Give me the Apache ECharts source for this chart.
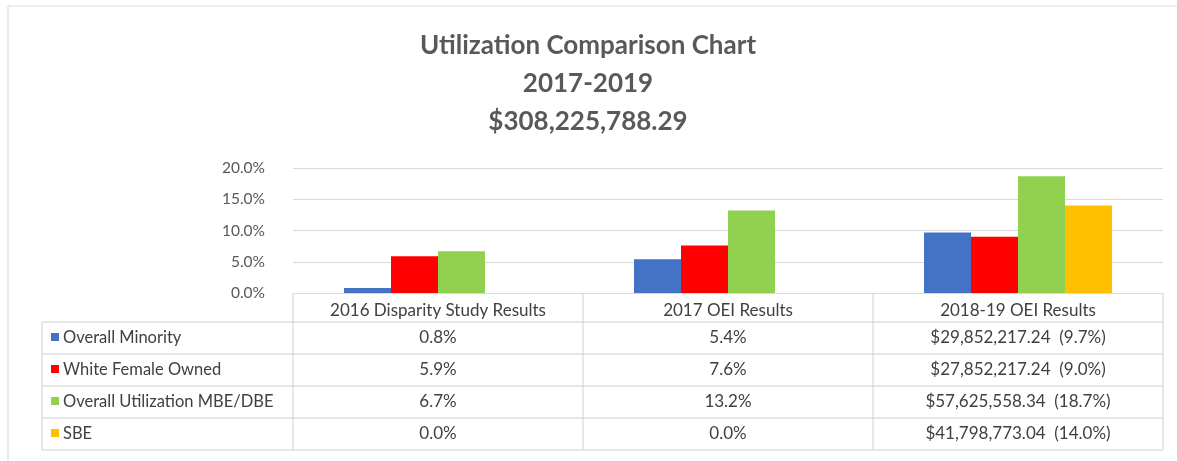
<!DOCTYPE html>
<html>
<head>
<meta charset="utf-8">
<script src="https://cdn.jsdelivr.net/npm/echarts@6/dist/echarts.min.js"></script>
<style>
  html, body { margin: 0; padding: 0; background: #fff; }
  #diagram { width: 1177px; height: 461px; }
</style>
</head>
<body>
<div id="diagram"></div>
<script>
// data
var categories = ["2016 Disparity Study Results", "2017 OEI Results", "2018-19 OEI Results"];
var seriesNames = ["Overall Minority", "White Female Owned", "Overall Utilization MBE/DBE", "SBE"];
var overallMinority = [0.8, 5.4, 9.7];
var whiteFemaleOwned = [5.9, 7.6, 9.0];
var overallUtilization = [6.7, 13.2, 18.7];
var sbe = [0.0, 0.0, 14.0];
var dollars1819 = ["$29,852,217.24", "$27,852,217.24", "$57,625,558.34", "$41,798,773.04"];
var titleLines = ["Utilization Comparison Chart", "2017-2019", "$308,225,788.29"];

var colors = ["#4472C4", "#FF0000", "#92D050", "#FFC000"];
var font = "Lato, 'Open Sans', sans-serif";
var seriesData = [overallMinority, whiteFemaleOwned, overallUtilization, sbe];

var gridLeft = 293, gridRight = 14, gridTop = 168, gridBottom = 168;
var W = 1177, H = 461;

var myChart = echarts.init(document.getElementById("diagram"));
var option = {
  color: colors,
  animation: false,
  textStyle: { fontFamily: font },
  title: {
    text: titleLines.join("\n"),
    left: 588,
    textAlign: "center",
    top: 27,
    padding: 0,
    textStyle: { fontSize: 26, fontWeight: "bold", color: "#595959", lineHeight: 38, fontFamily: font }
  },
  grid: { left: gridLeft, right: gridRight, top: gridTop, bottom: gridBottom },
  xAxis: {
    type: "category",
    data: categories,
    axisLine: { lineStyle: { color: "#d9d9d9" } },
    axisTick: { show: false },
    axisLabel: { color: "#404040", fontSize: 17, margin: 9, fontFamily: font, interval: 0 }
  },
  yAxis: {
    type: "value",
    min: 0,
    max: 20,
    interval: 5,
    axisLabel: {
      color: "#595959",
      fontSize: 15.5,
      margin: 28,
      fontFamily: font,
      formatter: function (v) { return v.toFixed(1) + "%"; }
    },
    splitLine: { lineStyle: { color: "#d9d9d9" } }
  },
  series: seriesNames.map(function (name, i) {
    return {
      name: name,
      type: "bar",
      data: seriesData[i],
      barWidth: 47,
      barGap: "0%"
    };
  })
};
myChart.setOption(option);

// data table under the plot
var plotRight = W - gridRight;
var axisY = H - gridBottom;
var rowH = 32;
var headerH = 29;
var tableLeft = 42;
var firstRowTop = axisY + headerH;
var lineColor = "#d0d0d0";
var textColor = "#404040";
var g = [];

function hline(x1, x2, y) {
  g.push({ type: "line", shape: { x1: x1, y1: y, x2: x2, y2: y }, style: { stroke: lineColor, lineWidth: 1 }, silent: true });
}
function vline(x, y1, y2) {
  g.push({ type: "line", shape: { x1: x, y1: y1, x2: x, y2: y2 }, style: { stroke: lineColor, lineWidth: 1 }, silent: true });
}

var tableBottom = firstRowTop + rowH * seriesNames.length;
for (var r = 0; r <= seriesNames.length; r++) {
  hline(tableLeft, plotRight, firstRowTop + r * rowH);
}
vline(tableLeft, firstRowTop, tableBottom);
var catW = (plotRight - gridLeft) / categories.length;
for (var c = 0; c <= categories.length; c++) {
  vline(gridLeft + c * catW, axisY, tableBottom);
}

seriesNames.forEach(function (name, i) {
  var cy = firstRowTop + i * rowH + rowH / 2;
  g.push({ type: "rect", shape: { x: 51, y: cy - 5, width: 8, height: 8 }, style: { fill: colors[i] }, silent: true });
  g.push({
    type: "text", x: 63, y: cy,
    style: { text: name, fill: textColor, fontSize: 16.5, fontFamily: font, verticalAlign: "middle", align: "left" },
    silent: true
  });
  categories.forEach(function (cat, j) {
    var cx = myChart.convertToPixel({ xAxisIndex: 0 }, cat);
    var v = seriesData[i][j];
    var txt = v.toFixed(1) + "%";
    if (j === 2) txt = dollars1819[i] + "  (" + txt + ")";
    g.push({
      type: "text", x: cx, y: cy,
      style: { text: txt, fill: textColor, fontSize: 17, fontFamily: font, verticalAlign: "middle", align: "center" },
      silent: true
    });
  });
});

// outer frame
g.push({ type: "rect", shape: { x: 8, y: 6, width: W, height: H }, style: { fill: "none", stroke: "#d9d9d9", lineWidth: 1 }, silent: true });

myChart.setOption({ graphic: g });
</script>
</body>
</html>
